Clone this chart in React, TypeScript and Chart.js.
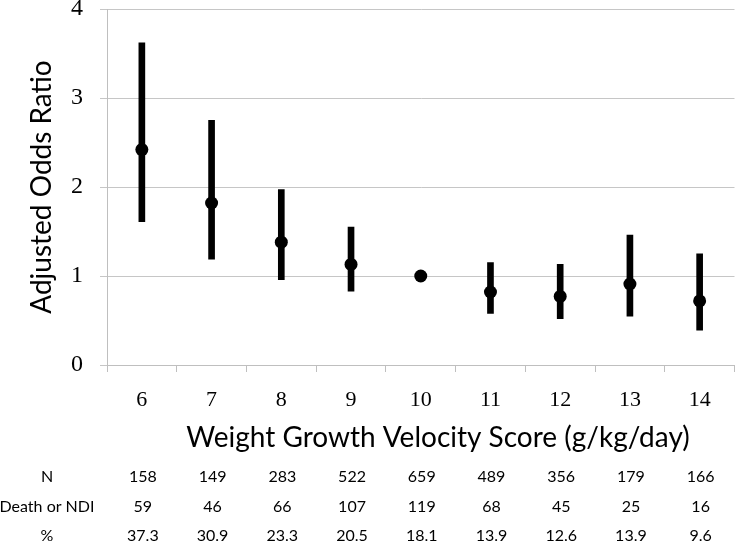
import React, { useEffect, useRef } from 'react';
import { Chart, registerables } from 'chart.js';

Chart.register(...registerables);

const categories = ['6', '7', '8', '9', '10', '11', '12', '13', '14'];
const oddsRatio = [2.42, 1.82, 1.38, 1.13, 1.0, 0.82, 0.77, 0.91, 0.72];
const ciLower: (number | null)[] = [1.61, 1.19, 0.96, 0.83, null, 0.58, 0.52, 0.55, 0.39];
const ciUpper: (number | null)[] = [3.62, 2.75, 1.97, 1.55, null, 1.15, 1.13, 1.46, 1.25];
const yTicks = [0, 1, 2, 3, 4];

const rowLabels = ['N', 'Death or NDI', '%'];
const nValues = ['158', '149', '283', '522', '659', '489', '356', '179', '166'];
const deathValues = ['59', '46', '66', '107', '119', '68', '45', '25', '16'];
const pctValues = ['37.3', '30.9', '23.3', '20.5', '18.1', '13.9', '12.6', '13.9', '9.6'];

const yTitle = 'Adjusted Odds Ratio';
const xTitle = 'Weight Growth Velocity Score (g/kg/day)';

const SANS = 'Lato, "Noto Sans", sans-serif';
const SERIF = '"Liberation Serif", "DejaVu Serif", serif';

const extrasPlugin = {
  id: 'extras',
  afterDraw(chart: any) {
    const { ctx, chartArea } = chart;
    const xScale = chart.scales.x;
    ctx.save();
    ctx.fillStyle = '#000';
    // Y axis title
    ctx.save();
    ctx.translate(42, (chartArea.top + chartArea.bottom) / 2);
    ctx.rotate(-Math.PI / 2);
    ctx.font = `28px ${SANS}`;
    ctx.textAlign = 'center';
    ctx.textBaseline = 'middle';
    ctx.fillText(yTitle, 0, 0);
    ctx.restore();
    // X axis title
    ctx.font = `28px ${SANS}`;
    ctx.textAlign = 'center';
    ctx.textBaseline = 'middle';
    ctx.fillText(xTitle, 438, 438);
    // Table
    const rows = [nValues, deathValues, pctValues];
    const rowY = [477, 507, 536];
    ctx.font = `16px ${SANS}`;
    rows.forEach((row, r) => {
      ctx.fillText(rowLabels[r], 47, rowY[r]);
      row.forEach((v, i) => {
        ctx.fillText(v, xScale.getPixelForValue(i) + 1, rowY[r]);
      });
    });
    ctx.restore();
  },
};

export default function App() {
  const ref = useRef<HTMLCanvasElement | null>(null);
  useEffect(() => {
    if (!ref.current) return;
    const chart = new Chart(ref.current, {
      type: 'bar',
      data: {
        labels: categories,
        datasets: [
          {
            type: 'line',
            data: oddsRatio,
            showLine: false,
            pointRadius: 6.5,
            pointHoverRadius: 6.5,
            pointBackgroundColor: '#000',
            pointBorderWidth: 0,
            borderColor: '#000',
            order: 0,
          } as any,
          {
            type: 'bar',
            data: ciLower.map((l, i) => (l == null || ciUpper[i] == null ? null : [l, ciUpper[i]])) as any,
            backgroundColor: '#000',
            borderWidth: 0,
            barThickness: 6,
            order: 1,
          } as any,
        ],
      },
      options: {
        animation: false,
        responsive: false,
        devicePixelRatio: 1,
        layout: { padding: { top: 9, right: 1, left: 0, bottom: 0 } },
        plugins: { legend: { display: false }, tooltip: { enabled: false } },
        scales: {
          x: {
            offset: true,
            grid: { offset: true, drawOnChartArea: false, drawTicks: true, tickLength: 7, color: '#bfbfbf' },
            border: { color: '#bfbfbf' },
            ticks: { font: { family: SERIF, size: 22 }, color: '#000', padding: 15 },
            afterFit: (s: any) => {
              s.height = 179;
              s.paddingLeft = 0;
              s.paddingRight = 0;
            },
          },
          y: {
            min: 0,
            max: 4,
            afterBuildTicks: (s: any) => {
              s.ticks = yTicks.map((v) => ({ value: v }));
            },
            ticks: { font: { family: SERIF, size: 24 }, color: '#000', padding: 17 },
            grid: { color: '#c6c6c6', tickLength: 7 },
            border: { color: '#bfbfbf' },
            afterFit: (s: any) => {
              s.width = 107;
              s.paddingTop = 0;
              s.paddingBottom = 0;
            },
          },
        },
      },
      plugins: [extrasPlugin],
    });
    return () => chart.destroy();
  }, []);
  return (
    <div style={{ position: 'absolute', left: 0, top: 0, width: 741, height: 544, background: '#fff' }}>
      <canvas ref={ref} width={741} height={544} />
    </div>
  );
}
